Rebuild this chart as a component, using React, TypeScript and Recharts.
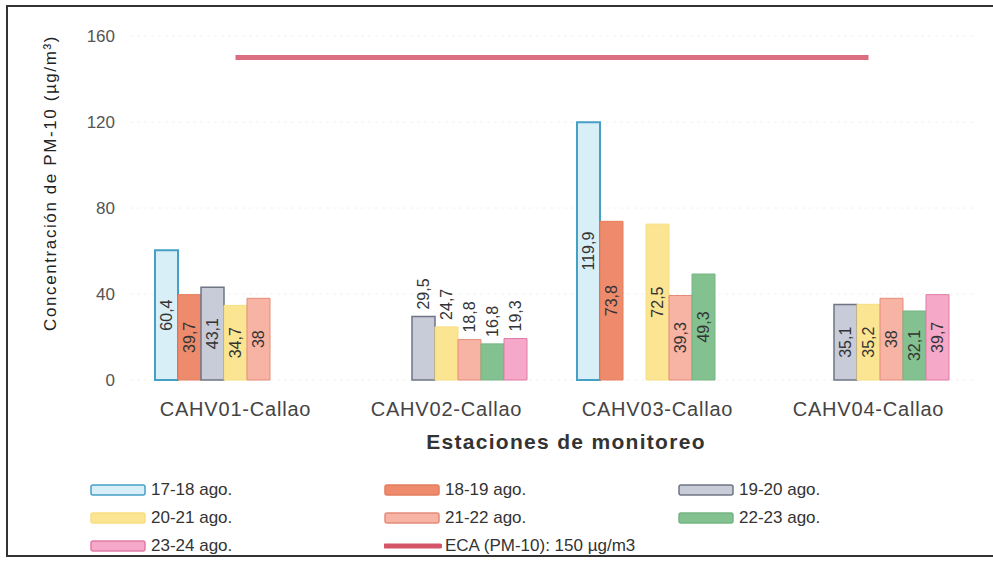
import {
  ComposedChart,
  Bar,
  Line,
  XAxis,
  YAxis,
  CartesianGrid,
  Legend,
  LabelList,
} from "recharts";

const stations = ["CAHV01-Callao", "CAHV02-Callao", "CAHV03-Callao", "CAHV04-Callao"];
const ago1718 = [60.4, null, 119.9, null];
const ago1819 = [39.7, null, 73.8, null];
const ago1920 = [43.1, 29.5, null, 35.1];
const ago2021 = [34.7, 24.7, 72.5, 35.2];
const ago2122 = [38, 18.8, 39.3, 38];
const ago2223 = [null, 16.8, 49.3, 32.1];
const ago2324 = [null, 19.3, null, 39.7];
const ecaLimit = [150, 150, 150, 150];
const yTicks = [0, 40, 80, 120, 160];

const series = [
  { key: "a1718", name: "17-18 ago.", values: ago1718, fill: "#d9eff7", stroke: "#45a0c6", sw: 2 },
  { key: "a1819", name: "18-19 ago.", values: ago1819, fill: "#ee8b6d", stroke: "#e57c5d", sw: 1 },
  { key: "a1920", name: "19-20 ago.", values: ago1920, fill: "#c8cbd8", stroke: "#6e7585", sw: 1.5 },
  { key: "a2021", name: "20-21 ago.", values: ago2021, fill: "#fbe592", stroke: "#f7de80", sw: 1 },
  { key: "a2122", name: "21-22 ago.", values: ago2122, fill: "#f7b4a4", stroke: "#e58b78", sw: 1 },
  { key: "a2223", name: "22-23 ago.", values: ago2223, fill: "#84c191", stroke: "#74b583", sw: 1 },
  { key: "a2324", name: "23-24 ago.", values: ago2324, fill: "#f6a8c9", stroke: "#e17ba6", sw: 1 },
];

const data = stations.map((s, i) => {
  const row: Record<string, string | number | null> = { station: s, eca: ecaLimit[i] };
  series.forEach((se) => {
    row[se.key] = se.values[i];
  });
  return row;
});

const font = "'Liberation Sans', Arial, sans-serif";

function ValueLabel(props: any) {
  const { x, y, width, height, value } = props;
  if (value === null || value === undefined) return null;
  const cx = x + width / 2;
  const txt = String(value).replace(".", ",");
  if (value < 30) {
    const ty = y - 7;
    return (
      <text
        x={cx}
        y={ty}
        transform={`rotate(-90, ${cx}, ${ty})`}
        textAnchor="start"
        dominantBaseline="central"
        fontSize={16}
        fontFamily={font}
        fill="#333"
      >
        {txt}
      </text>
    );
  }
  const cy = y + height / 2;
  return (
    <text
      x={cx}
      y={cy}
      transform={`rotate(-90, ${cx}, ${cy})`}
      textAnchor="middle"
      dominantBaseline="central"
      fontSize={16}
      fontFamily={font}
      fill="#333"
    >
      {txt}
    </text>
  );
}

function YTitle(props: any) {
  const vb = props.viewBox;
  const lx = vb.x + 50;
  const ly = vb.y + vb.height / 2 - 25;
  return (
    <text
      x={lx}
      y={ly}
      transform={`rotate(-90, ${lx}, ${ly})`}
      textAnchor="middle"
      dominantBaseline="central"
      fontSize={17}
      letterSpacing={1.6}
      fontFamily={font}
      fill="#222"
    >
      Concentración de PM-10 (µg/m³)
    </text>
  );
}

function LegendBox() {
  const items = [
    ...series.map((s) => ({ name: s.name, fill: s.fill, stroke: s.stroke, line: false })),
    { name: "ECA (PM-10): 150 µg/m3", fill: "#d45468", stroke: "#d45468", line: true },
  ];
  return (
    <div
      style={{
        height: 84,
        paddingLeft: 90,
        display: "grid",
        gridTemplateColumns: "294px 294px 294px",
        gridAutoRows: "28px",
        marginTop: -4,
        fontFamily: font,
        fontSize: 17,
        color: "#333",
      }}
    >
      {items.map((it) => (
        <div key={it.name} style={{ display: "flex", alignItems: "center" }}>
          <svg width={58} height={12} style={{ marginRight: 3 }}>
            {it.line ? (
              <line x1={1} y1={6} x2={56} y2={6} stroke={it.fill} strokeWidth={5} strokeLinecap="round" />
            ) : (
              <rect x={1} y={1} width={54} height={10} rx={2} fill={it.fill} stroke={it.stroke} strokeWidth={1.5} />
            )}
          </svg>
          <span>{it.name}</span>
        </div>
      ))}
    </div>
  );
}

export default function App() {
  return (
    <div style={{ position: "absolute", left: 0, top: 0, width: 993, height: 561, background: "#fff" }}>
      <div
        style={{
          position: "absolute",
          left: 6,
          top: 5,
          width: 1000,
          height: 548,
          borderLeft: "2px solid #333",
          borderTop: "2px solid #333",
          borderBottom: "2px solid #333",
        }}
      />
      <ComposedChart
        width={993}
        height={561}
        data={data}
        margin={{ top: 36, right: 19, bottom: 1, left: 0 }}
        barCategoryGap={25}
        barGap={0}
      >
        <CartesianGrid vertical={false} stroke="#f2f2f2" strokeDasharray="3 4" />
        <XAxis
          dataKey="station"
          height={100}
          axisLine={false}
          tickLine={false}
          tickSize={0}
          tickMargin={22}
          tick={{ fontSize: 20, fill: "#444", fontFamily: font, letterSpacing: 0.8 }}
          label={{
            value: "Estaciones de monitoreo",
            position: "insideBottom",
            offset: 31,
            dx: 14,
            fontSize: 21,
            fontWeight: "bold",
            letterSpacing: 1.3,
            fill: "#333",
            fontFamily: font,
          }}
        />
        <YAxis
          width={130}
          domain={[0, 160]}
          ticks={yTicks}
          axisLine={false}
          tickLine={false}
          tickSize={0}
          tickMargin={15}
          tick={{ fontSize: 17, fill: "#555", fontFamily: font }}
          label={<YTitle />}
        />
        <Legend verticalAlign="bottom" wrapperStyle={{ left: 0, width: 993 }} content={() => <LegendBox />} />
        {series.map((s) => (
          <Bar
            key={s.key}
            dataKey={s.key}
            name={s.name}
            fill={s.fill}
            stroke={s.stroke}
            strokeWidth={s.sw}
            isAnimationActive={false}
          >
            <LabelList dataKey={s.key} content={<ValueLabel />} />
          </Bar>
        ))}
        <Line
          dataKey="eca"
          name="ECA (PM-10): 150 µg/m3"
          stroke="#dc6d80"
          strokeWidth={5}
          dot={false}
          type="linear"
          isAnimationActive={false}
        />
      </ComposedChart>
    </div>
  );
}
